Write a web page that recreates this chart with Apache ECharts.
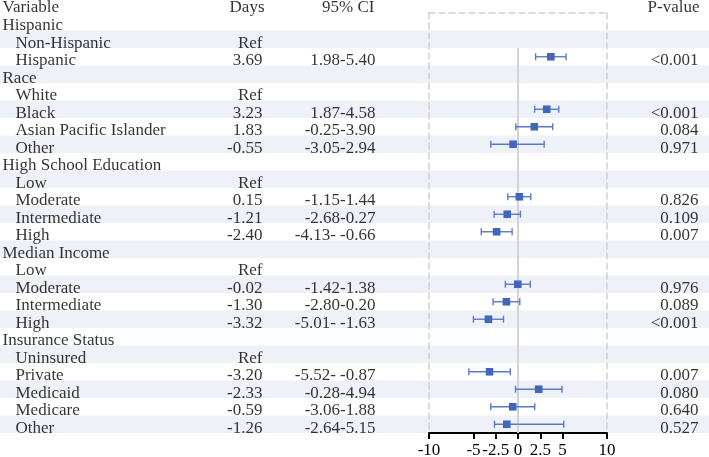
<!DOCTYPE html>
<html>
<head>
<meta charset="utf-8">
<script src="https://cdn.jsdelivr.net/npm/echarts@6/dist/echarts.min.js"></script>
<style>
  html, body { margin: 0; padding: 0; background: #fff; }
  #forest { width: 709px; height: 457px; }
</style>
</head>
<body>
<div id="forest"></div>
<script>
// table rows, top to bottom
var labels = ['Hispanic', 'Non-Hispanic', 'Hispanic', 'Race', 'White', 'Black', 'Asian Pacific Islander', 'Other',
  'High School Education', 'Low', 'Moderate', 'Intermediate', 'High',
  'Median Income', 'Low', 'Moderate', 'Intermediate', 'High',
  'Insurance Status', 'Uninsured', 'Private', 'Medicaid', 'Medicare', 'Other'];
var groupRows = [0, 3, 8, 13, 18];
var daysText = ['', 'Ref', '3.69', '', 'Ref', '3.23', '1.83', '-0.55', '', 'Ref', '0.15', '-1.21', '-2.40',
  '', 'Ref', '-0.02', '-1.30', '-3.32', '', 'Ref', '-3.20', '-2.33', '-0.59', '-1.26'];
var ciText = ['', '', '1.98-5.40', '', '', '1.87-4.58', '-0.25-3.90', '-3.05-2.94', '', '', '-1.15-1.44', '-2.68-0.27', '-4.13- -0.66',
  '', '', '-1.42-1.38', '-2.80-0.20', '-5.01- -1.63', '', '', '-5.52- -0.87', '-0.28-4.94', '-3.06-1.88', '-2.64-5.15'];
var pText = ['', '', '<0.001', '', '', '<0.001', '0.084', '0.971', '', '', '0.826', '0.109', '0.007',
  '', '', '0.976', '0.089', '<0.001', '', '', '0.007', '0.080', '0.640', '0.527'];
// plotted estimate and interval (as drawn)
var est = [null, null, 3.69, null, null, 3.23, 1.83, -0.55, null, null, 0.15, -1.21, -2.40,
  null, null, -0.02, -1.30, -3.32, null, null, -3.20, 2.33, -0.59, -1.26];
var lo = [null, null, 1.98, null, null, 1.87, -0.25, -3.05, null, null, -1.15, -2.68, -4.13,
  null, null, -1.42, -2.80, -5.01, null, null, -5.52, -0.28, -3.06, -2.64];
var hi = [null, null, 5.40, null, null, 4.58, 3.90, 2.94, null, null, 1.44, 0.27, -0.66,
  null, null, 1.38, 0.20, -1.63, null, null, -0.87, 4.94, 1.88, 5.15];
var headers = ['Variable', 'Days', '95% CI', 'P-value'];
var xTicks = [-10, -5, -2.5, 0, 2.5, 5, 10];

var font = "'Liberation Serif', 'Times New Roman', serif";
var fsize = 17;
var nRows = labels.length;

function textSeries(xPos, texts, pos, indentFn) {
  var data = [];
  texts.forEach(function (t, i) {
    if (t === '') return;
    var x = indentFn ? indentFn(i) : xPos;
    data.push({ name: t, value: [x, i + 0.5] });
  });
  return {
    type: 'scatter', xAxisIndex: 2, yAxisIndex: 3, symbolSize: 1, clip: false, silent: true,
    itemStyle: { color: 'rgba(0,0,0,0)' },
    label: { show: true, position: pos, distance: 0, offset: [0, 4], formatter: '{b}', color: '#000', fontFamily: font, fontSize: fsize },
    data: data, z: 5
  };
}

var forestData = [];
est.forEach(function (v, i) {
  if (v !== null) forestData.push([v, lo[i], hi[i], i + 0.5]);
});

var dashed = { show: true, onZero: false, lineStyle: { color: '#d0d0d0', width: 1.5, type: [6, 4] } };

var myChart = echarts.init(document.getElementById('forest'));
var option = {
  animation: false,
  grid: [
    { left: 429, top: 13, width: 178, height: 420, outerBoundsMode: 'none', containLabel: false },
    { left: 0, top: 13, width: 709, height: 420, outerBoundsMode: 'none', containLabel: false }
  ],
  xAxis: [
    {
      gridIndex: 0, type: 'value', min: -10, max: 10, position: 'bottom', z: 4,
      axisLine: { show: true, onZero: false, lineStyle: { color: '#000', width: 2 } },
      axisTick: { show: true, length: 6, customValues: xTicks, lineStyle: { color: '#000', width: 2 } },
      axisLabel: { customValues: xTicks, color: '#000', fontFamily: font, fontSize: fsize, margin: 9 },
      splitLine: { show: false }
    },
    {
      gridIndex: 0, type: 'value', min: -10, max: 10, position: 'top', z: 4,
      axisLine: dashed,
      axisTick: { show: false }, axisLabel: { show: false }, splitLine: { show: false }
    },
    {
      gridIndex: 1, type: 'value', min: 0, max: 709, show: false
    }
  ],
  yAxis: [
    {
      gridIndex: 0, type: 'value', min: 0, max: nRows, inverse: true, position: 'left', z: 4,
      axisLine: dashed,
      axisTick: { show: false }, axisLabel: { show: false }, splitLine: { show: false }
    },
    {
      gridIndex: 0, type: 'value', min: 0, max: nRows, inverse: true, position: 'right', z: 4,
      axisLine: dashed,
      axisTick: { show: false }, axisLabel: { show: false }, splitLine: { show: false }
    },
    {
      gridIndex: 0, type: 'value', min: 0, max: nRows, inverse: true, show: false
    },
    {
      gridIndex: 1, type: 'value', min: 0, max: nRows, interval: 1, inverse: true, z: -1,
      axisLine: { show: false }, axisTick: { show: false }, axisLabel: { show: false }, splitLine: { show: false },
      splitArea: { show: true, areaStyle: { color: ['rgba(255,255,255,0)', '#eef1f8'] } }
    }
  ],
  series: [
    {
      type: 'custom', xAxisIndex: 0, yAxisIndex: 2, z: 10, clip: false,
      data: forestData,
      renderItem: function (params, api) {
        var y = api.value(3);
        var pe = api.coord([api.value(0), y]);
        var pl = api.coord([api.value(1), y]);
        var ph = api.coord([api.value(2), y]);
        var lineStyle = { stroke: '#5a7bcb', lineWidth: 1.4 };
        var cap = 3.5, box = 3.8;
        return {
          type: 'group',
          children: [
            { type: 'line', shape: { x1: pl[0], y1: pl[1], x2: ph[0], y2: ph[1] }, style: lineStyle },
            { type: 'line', shape: { x1: pl[0], y1: pl[1] - cap, x2: pl[0], y2: pl[1] + cap }, style: lineStyle },
            { type: 'line', shape: { x1: ph[0], y1: ph[1] - cap, x2: ph[0], y2: ph[1] + cap }, style: lineStyle },
            { type: 'rect', shape: { x: pe[0] - box, y: pe[1] - box, width: box * 2, height: box * 2 }, style: { fill: '#4466b8' } }
          ]
        };
      }
    },
    {
      type: 'line', xAxisIndex: 0, yAxisIndex: 2, data: [], z: 3,
      markLine: {
        silent: true, symbol: 'none', label: { show: false },
        lineStyle: { color: '#d3d3d3', width: 2, type: 'solid' },
        data: [[{ coord: [0, 2] }, { coord: [0, nRows] }]]
      }
    },
    textSeries(null, labels, 'right', function (i) { return groupRows.indexOf(i) >= 0 ? 2 : 15; }),
    textSeries(263, daysText, 'left'),
    textSeries(376, ciText, 'left'),
    textSeries(699, pText, 'left'),
    {
      type: 'scatter', xAxisIndex: 2, yAxisIndex: 3, symbolSize: 1, clip: false, silent: true,
      itemStyle: { color: 'rgba(0,0,0,0)' },
      label: {
        show: true, distance: 0, offset: [0, 3.5], formatter: '{b}', color: '#000', fontFamily: font, fontSize: fsize,
        position: 'left'
      },
      data: [
        { name: headers[0], value: [2, -0.5], label: { position: 'right' } },
        { name: headers[1], value: [265, -0.5] },
        { name: headers[2], value: [375, -0.5] },
        { name: headers[3], value: [700, -0.5] }
      ],
      z: 5
    }
  ]
};
myChart.setOption(option);
</script>
</body>
</html>
